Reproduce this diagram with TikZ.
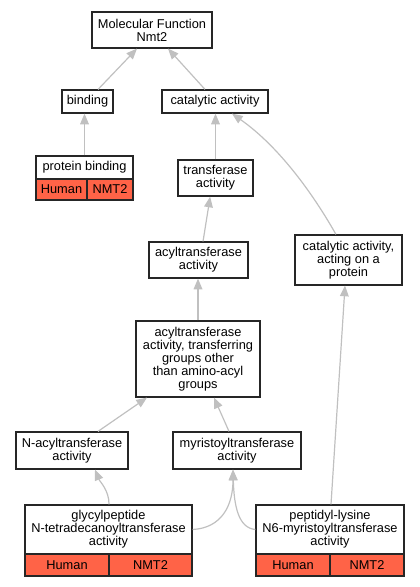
\documentclass[tikz,border=0pt]{standalone}
\usepackage{fontspec}
\setmainfont{Liberation Sans}
\usetikzlibrary{arrows.meta}
\definecolor{edgegray}{RGB}{192,192,192}
\definecolor{tomatored}{RGB}{255,99,71}

\begin{document}
\begin{tikzpicture}[x=0.75pt,y=0.75pt,yscale=-1,xscale=1,
  term/.style={draw=black!85, line width=0.9pt, fill=white, align=center, inner sep=0pt,
    font=\fontsize{9.6pt}{9.75pt}\selectfont},
  organism/.style={term, fill=tomatored},
  isa/.style={draw=edgegray, line width=0.9pt, -{Triangle[length=8pt,width=6.5pt]}}]
\useasboundingbox (0,0) rectangle (419,587);

% Text Node
\node [term, minimum width=90pt, minimum height=27pt] (mf) at (152,30) {Molecular Function\\Nmt2};
% Text Node
\node [term, minimum width=38.25pt, minimum height=17.25pt] (bind) at (87.5,101.5) {binding};
% Text Node
\node [term, minimum width=79.5pt, minimum height=17.25pt] (cat) at (215,101.5) {catalytic activity};
% Text Node
\node [term, minimum width=72.75pt, minimum height=17.25pt] (pbind) at (84.5,167.5) {protein binding};
\node [organism, minimum width=38.25pt, minimum height=15.75pt] (pbindhs) at (61.5,189.5) {Human};
\node [organism, minimum width=34.5pt, minimum height=15.75pt] (pbindgene) at (110,189.5) {NMT2};
% Text Node
\node [term, minimum width=56.25pt, minimum height=27pt] (trans) at (215.5,178) {transferase\\activity};
% Text Node
\node [term, minimum width=74.25pt, minimum height=27pt] (acyl) at (198.5,260) {acyltransferase\\activity};
% Text Node
\node [term, minimum width=80.25pt, minimum height=37.5pt] (catp) at (348.5,260) {catalytic activity,\\acting on a\\protein};
% Text Node
\node [term, minimum width=93pt, minimum height=57pt] (acylg) at (198,359) {acyltransferase\\activity, transferring\\groups other\\than amino-acyl\\groups};
% Text Node
\node [term, minimum width=84pt, minimum height=27.75pt] (nacyl) at (72,450.5) {N-acyltransferase\\activity};
% Text Node
\node [term, minimum width=96pt, minimum height=27.75pt] (myr) at (237,450.5) {myristoyltransferase\\activity};
% Text Node
\node [term, minimum width=125.25pt, minimum height=36.75pt] (glyc) at (108.5,529.5) {glycylpeptide\\N-tetradecanoyltransferase\\activity};
\node [organism, minimum width=63pt, minimum height=16.5pt] (glychs) at (67,565) {Human};
\node [organism, minimum width=62.25pt, minimum height=16.5pt] (glycgene) at (150.5,565) {NMT2};
% Text Node
\node [term, minimum width=111pt, minimum height=36.75pt] (pept) at (330,529.5) {peptidyl-lysine\\N6-myristoyltransferase\\activity};
\node [organism, minimum width=55.5pt, minimum height=16.5pt] (pepths) at (293,565) {Human};
\node [organism, minimum width=55.5pt, minimum height=16.5pt] (peptgene) at (367,565) {NMT2};

%Straight Lines
\draw [isa] ([xshift=7.9pt]bind.north) -- ([xshift=-11.25pt]mf.south);
\draw [isa] ([xshift=-7.5pt]cat.north) -- ([xshift=12pt]mf.south);
\draw [isa] (pbind.north) -- (pbind.north |- bind.south);
\draw [isa] (trans.north) -- (trans.north |- cat.south);
\draw [isa] ([xshift=3.4pt]acyl.north) -- ([xshift=-4pt]trans.south);
\draw [isa] (acylg.north) -- (acylg.north |- acyl.south);
\draw [isa] ([xshift=19.5pt]nacyl.north) -- ([xshift=-38.25pt]acylg.south);
\draw [isa] ([xshift=-6pt]myr.north) -- ([xshift=12pt]acylg.south);
\draw [isa] ([xshift=0.75pt]pept.north) -- ([xshift=-2.6pt]catp.south);
%Curves
\draw [isa] ([xshift=-9.4pt]catp.north) .. controls (308,185) and (274,143) .. ([xshift=12.75pt]cat.south);
\draw [isa] ([xshift=0.4pt]glyc.north) .. controls (109,490) and (100,482) .. ([xshift=17.25pt]nacyl.south);
\draw [isa] (glyc.east) .. controls (222,528) and (233,505) .. ([xshift=-3pt]myr.south);
\draw [isa] (pept.west) .. controls (238,528) and (234,505) .. ([xshift=-3pt]myr.south);

\end{tikzpicture}
\end{document}
